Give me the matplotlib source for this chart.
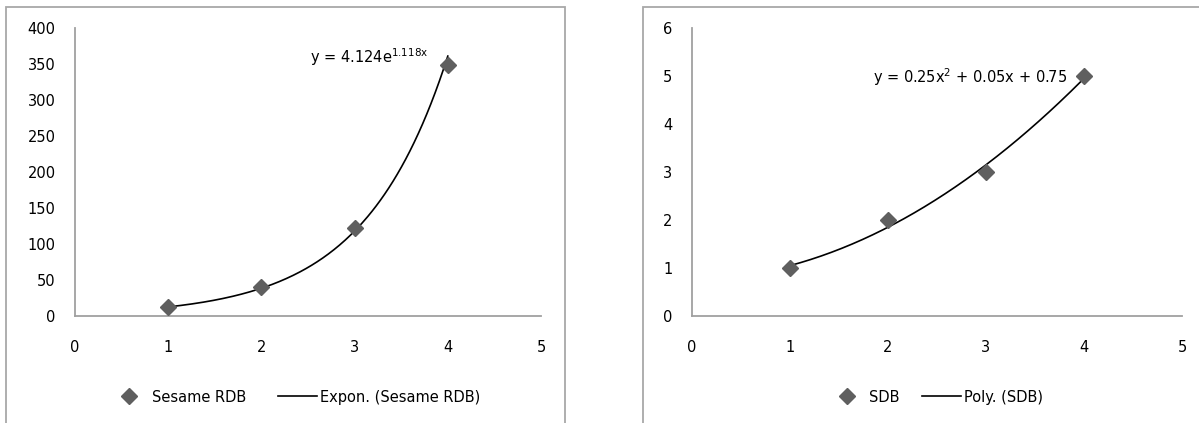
import numpy as np
import matplotlib
matplotlib.use("Agg")
import matplotlib.pyplot as plt
from matplotlib.patches import Rectangle
from matplotlib.lines import Line2D

plt.rcParams["mathtext.default"] = "regular"

# Sesame RDB observations with an exponential trend
rdb_x = [1, 2, 3, 4]
rdb_y = [12, 40, 122, 348]
rdb_a, rdb_b = 4.124, 1.118

# SDB observations with a 2nd-order polynomial trend
sdb_x = [1, 2, 3, 4]
sdb_y = [1, 2, 3, 5]
sdb_coef = [0.25, 0.05, 0.75]

W, H = 1199, 423
fig = plt.figure(figsize=(W / 100, H / 100), dpi=100)
fig.patch.set_facecolor("white")

FONT = "DejaVu Sans"
MARK = "#5f5f5f"
AXC = "#a0a0a0"
BORDER = "#a8a8a8"


def fx(px):
    return px / W


def fy(py):
    return 1 - py / H


# chart area frames
fig.add_artist(Rectangle((fx(6), fy(430)), fx(565) - fx(6), fy(7) - fy(430),
                         transform=fig.transFigure, fill=False,
                         edgecolor=BORDER, lw=1.3))
fig.add_artist(Rectangle((fx(643), fy(430)), fx(1215) - fx(643), fy(7) - fy(430),
                         transform=fig.transFigure, fill=False,
                         edgecolor=BORDER, lw=1.3))


def make_axes(x0, x1, y0=316, y1=28):
    ax = fig.add_axes([fx(x0), fy(y0), fx(x1) - fx(x0), fy(y1) - fy(y0)])
    for s in ("top", "right"):
        ax.spines[s].set_visible(False)
    for s in ("left", "bottom"):
        ax.spines[s].set_color(AXC)
        ax.spines[s].set_linewidth(1.3)
    ax.tick_params(length=0, labelsize=10.5, colors="black")
    ax.tick_params(axis="x", pad=17)
    ax.tick_params(axis="y", pad=14)
    for lab in ax.get_xticklabels() + ax.get_yticklabels():
        lab.set_family(FONT)
    ax.set_xlim(0, 5)
    ax.set_xticks(range(0, 6))
    ax.patch.set_alpha(0)
    return ax


# left chart: exponential fit
ax1 = make_axes(75, 541)
ax1.set_ylim(0, 400)
ax1.set_yticks(range(0, 401, 50))
xs = np.linspace(rdb_x[0], rdb_x[-1], 200)
ax1.plot(xs, rdb_a * np.exp(rdb_b * xs), color="black", lw=1.2, zorder=2)
ax1.plot(rdb_x, rdb_y, linestyle="none", marker="D", ms=8, color=MARK,
         zorder=3, clip_on=False)
ax1.text(310 / W, fy(57), r"y = 4.124e$^{1.118x}$", transform=fig.transFigure,
         fontsize=10.5, family=FONT, va="center", ha="left")

# right chart: polynomial fit
ax2 = make_axes(692, 1182)
ax2.set_ylim(0, 6)
ax2.set_yticks(range(0, 7))
xs2 = np.linspace(sdb_x[0], sdb_x[-1], 200)
ax2.plot(xs2, np.polyval(sdb_coef, xs2), color="black", lw=1.2, zorder=2)
ax2.plot(sdb_x, sdb_y, linestyle="none", marker="D", ms=8, color=MARK,
         zorder=3, clip_on=False)
ax2.text(873 / W, fy(77), r"y = 0.25x$^{2}$ + 0.05x + 0.75",
         transform=fig.transFigure, fontsize=10.5, family=FONT,
         va="center", ha="left")


def legend(cx, label_pts, label_fit, colsp):
    handles = [
        Line2D([], [], linestyle="none", marker="D", ms=8, color=MARK),
        Line2D([], [], color="black", lw=1.2),
    ]
    fig.legend(handles, [label_pts, label_fit], loc="center",
               bbox_to_anchor=(fx(cx), fy(397)), ncol=2, frameon=False,
               prop={"family": FONT, "size": 10.5}, handlelength=2.7,
               columnspacing=colsp, handletextpad=0.2)


legend(295, "Sesame RDB", "Expon. (Sesame RDB)", 2.2)
legend(935, "SDB", "Poly. (SDB)", 1.5)

fig.savefig("out.png", dpi=100, facecolor="white")
